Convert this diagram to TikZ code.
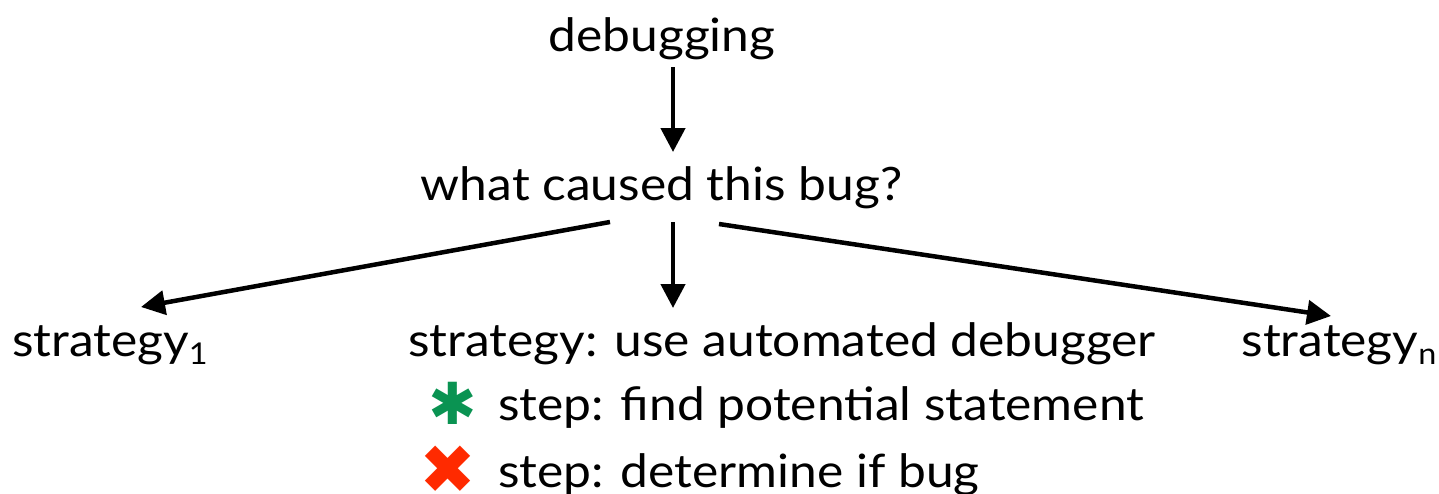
\documentclass[tikz,border=0pt]{standalone}
\usepackage{fontspec}
\setmainfont[FakeStretch=1.08]{Lato}
\newfontfamily\symfont{DejaVu Sans}
\usetikzlibrary{arrows.meta,calc}
\definecolor{stargreen}{HTML}{0A9352}
\definecolor{crossred}{HTML}{FF2A00}
\tikzset{
  lbl/.style={inner sep=0pt, anchor=base, font=\fontsize{46}{50}\selectfont},
  lblw/.style={inner sep=0pt, anchor=base west, font=\fontsize{46}{50}\selectfont},
  arr/.style={line width=4.5pt, -{Triangle[length=24pt,width=24pt]}},
  sym/.style={inner sep=0pt, font=\symfont\fontsize{68}{68}\selectfont},
}
\newcommand{\subidx}[1]{\raisebox{-0.18em}{\fontsize{30}{32}\selectfont #1}}
\begin{document}
\begin{tikzpicture}[x=1pt,y=-1pt]
\useasboundingbox (0,0) rectangle (1439,493);
\node[lbl] (dbg) at (662,51) {debugging};
\node[lbl] (q) at (661.5,200) {what caused this bug?};
\node[lbl] (s1) at (110,356) {strategy\subidx{1}};
\node[lbl] (sm) at (782,356) {strategy: use automated debugger};
\node[lbl] (sn) at (1339,356) {strategy\subidx{n}};
\node[sym, text=stargreen, font=\symfont\fontsize{58}{58}\selectfont] (star) at (453,403) {✱};
\node[lblw] (st1) at (498,420) {step: find potential statement};
\node[sym, text=crossred] (cross) at (448,470) {✖};
\node[lblw] (st2) at (498,487) {step: determine if bug};
\draw[arr] ($(dbg.base)+(11,16)$) -- ($(q.base)+(11.5,-48)$);
\draw[arr] ($(q.base)+(-51.5,22)$) -- ($(s1.base)+(31,-49)$);
\draw[arr] ($(q.base)+(11.5,22)$) -- ($(sm.base)+(-109,-48)$);
\draw[arr] ($(q.base)+(57.5,24)$) -- ($(sn.base)+(-8,-40)$);
\end{tikzpicture}
\end{document}
